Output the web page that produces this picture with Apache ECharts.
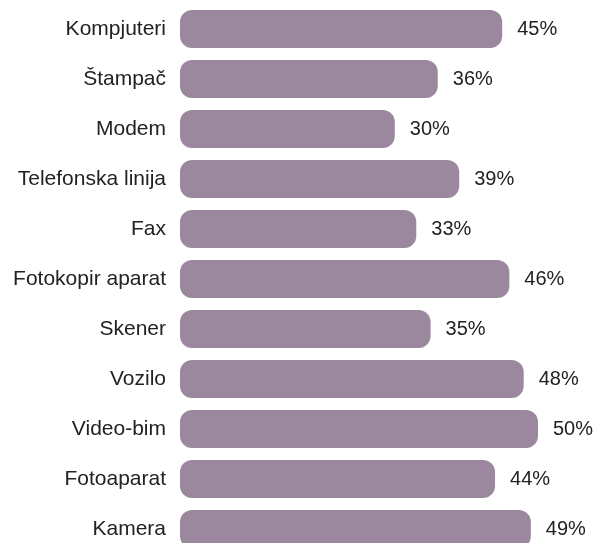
<!DOCTYPE html>
<html>
<head>
<meta charset="utf-8">
<script src="https://cdn.jsdelivr.net/npm/echarts@6/dist/echarts.min.js"></script>
<style>html,body{margin:0;padding:0;background:#fff;overflow:hidden;}#c{width:596px;height:560px;}</style>
</head>
<body>
<div id="c"></div>
<script>
const categories = ["Kompjuteri","Štampač","Modem","Telefonska linija","Fax","Fotokopir aparat","Skener","Vozilo","Video-bim","Fotoaparat","Kamera"];
const values = [45,36,30,39,33,46,35,48,50,44,49];

const chart = echarts.init(document.getElementById('c'), null, {renderer:'canvas'});
chart.setOption({
  animation:false,
  grid:{left:180, top:4, right:58, height:550, containLabel:false},
  xAxis:{type:'value', min:0, max:50, show:false},
  yAxis:{type:'category', data:categories, inverse:true,
    axisLine:{show:false}, axisTick:{show:false}, splitLine:{show:false},
    axisLabel:{margin:14, fontSize:21, color:'#222', fontFamily:'Liberation Sans, Arial, sans-serif'}},
  series:[{type:'bar', data:values, barWidth:38,
    itemStyle:{color:'#9c889e', borderRadius:12},
    label:{show:true, position:'right', distance:15, formatter:'{c}%', fontSize:20, color:'#222', fontFamily:'Liberation Sans, Arial, sans-serif'}
  }]
});
</script>
</body>
</html>
